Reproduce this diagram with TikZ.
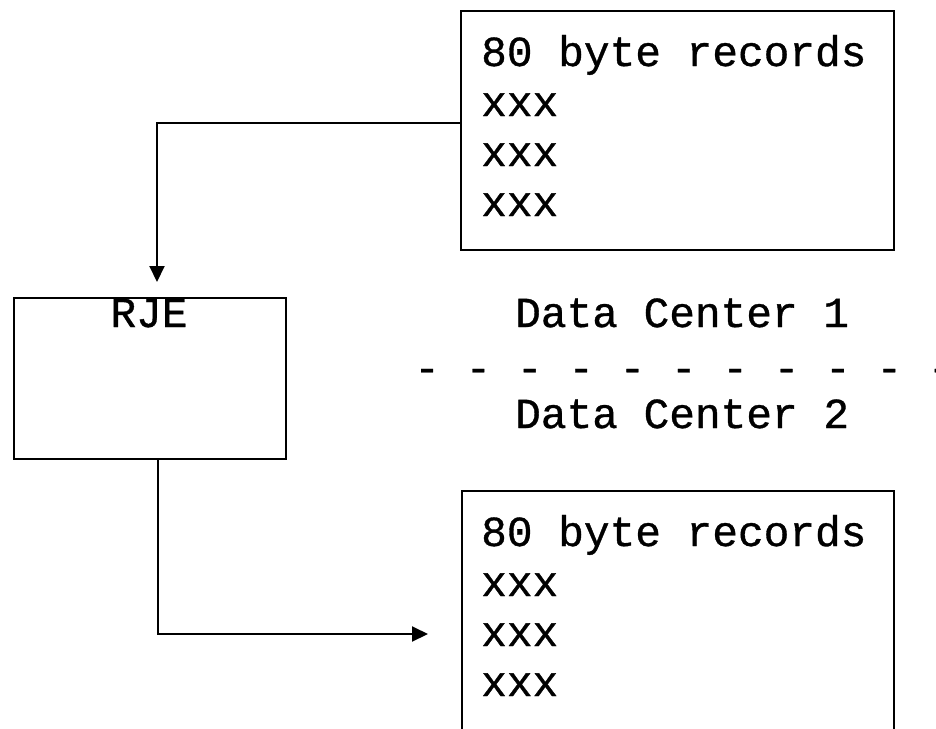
\documentclass[tikz,border=0pt]{standalone}
\usepackage{fontspec}
\newfontfamily\monofam[FakeBold=0.8]{Liberation Mono}
\usetikzlibrary{arrows.meta}
\begin{document}
\begin{tikzpicture}[x=1pt,y=-1pt,
  box/.style={draw, line width=2pt, inner sep=0pt, anchor=north west},
  txt/.style={inner sep=0pt, anchor=base west, font=\monofam\fontsize{42.8}{50}\selectfont},
  conn/.style={line width=2pt, -{Triangle[length=16pt,width=15pt]}}]
\useasboundingbox (0,0) rectangle (936,728);
\clip (0,0) rectangle (936,728);
% boxes
\node[box, minimum width=433pt, minimum height=239pt] (top) at (460,10) {};
\node[box, minimum width=272pt, minimum height=161pt] (rje) at (13,297) {};
\node[box, minimum width=432pt, minimum height=280pt] (bot) at (461,490) {};
% texts
\node[txt] (t1) at (481,66) {80 byte records};
\node[txt] (t2) at (481,116) {xxx};
\node[txt] (t3) at (481,166) {xxx};
\node[txt] (t4) at (481,216) {xxx};
\node[txt] (b1) at (481,546) {80 byte records};
\node[txt] (b2) at (481,596) {xxx};
\node[txt] (b3) at (481,646) {xxx};
\node[txt] (b4) at (481,696) {xxx};
\node[txt, anchor=base] (rjel) at (149,327) {RJE};
\node[txt] (dc1) at (515,327) {Data Center 1};
\node[txt] (dc2) at (515,428) {Data Center 2};
\node[txt] (sep) at (414,382) {- - - - - - - - - - -};
% connectors
\coordinate (a1) at (157,282);
\coordinate (a2) at (428,634);
\draw[conn] ([yshift=7.5pt]top.west) -| (a1);
\draw[conn] ([xshift=8pt]rje.south) |- (a2);
\end{tikzpicture}
\end{document}
